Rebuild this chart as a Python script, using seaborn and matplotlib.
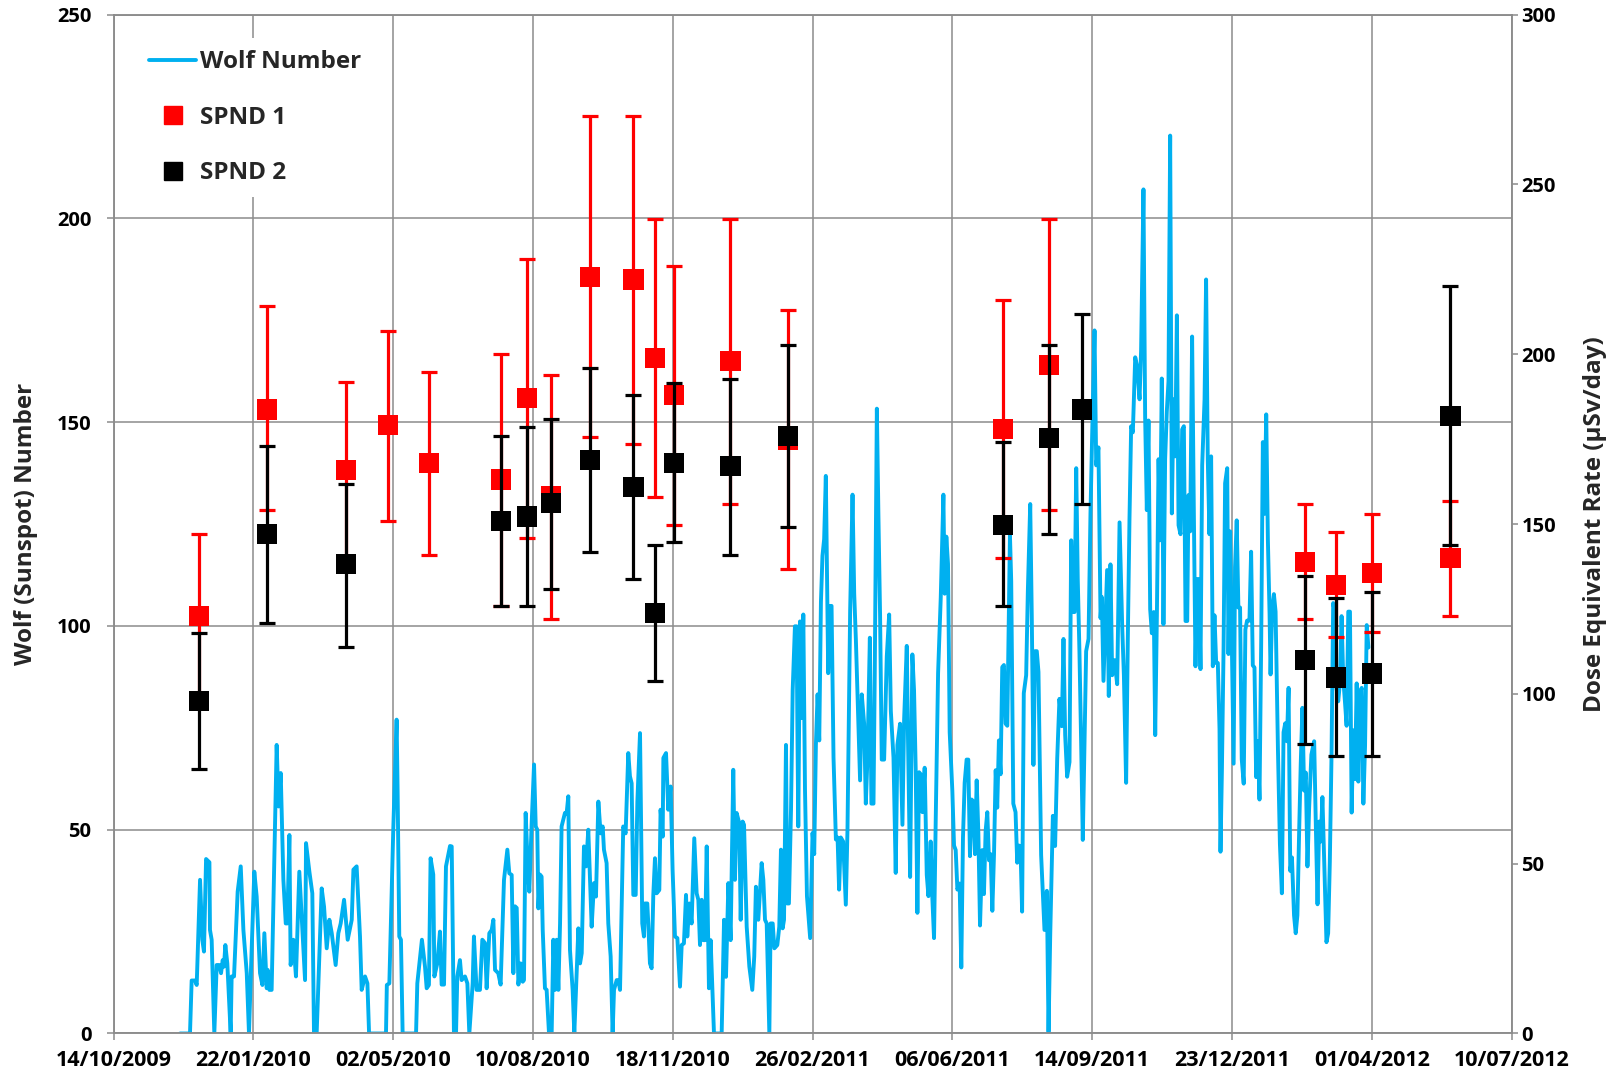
import numpy as np
import pandas as pd
import matplotlib
matplotlib.use("Agg")
import matplotlib.pyplot as plt
from matplotlib.lines import Line2D
import seaborn as sns

# ---------------- data ----------------
START = "2009-10-14"   # day 0 of the day offsets below

# Daily Wolf (sunspot) number (day offset from START, value)
wolf_day = [
    47.6, 54.7, 55.9, 58.3, 59.5, 61.9, 63.5, 64.7, 66.2, 68.6, 69.0, 70.2, 72.1, 73.8, 75.7, 76.9,
    78.1, 79.0, 80.0, 81.4, 83.8, 84.5, 86.2, 88.8, 91.0, 92.9, 95.3, 96.9, 98.4, 100.7, 102.4, 104.8,
    106.5, 107.9, 109.6, 110.3, 111.5, 113.1, 115.5, 116.7, 118.1, 119.6, 121.5, 123.2, 124.3, 125.8,
    126.7, 128.6, 130.5, 132.9, 135.1, 137.0, 137.7, 140.1, 142.2, 143.4, 145.3, 148.9, 150.6, 152.5,
    154.4, 156.1, 158.9, 160.8, 162.5, 164.9, 167.5, 170.4, 171.6, 173.9, 176.3, 177.5, 179.9, 181.6,
    182.8, 194.9,
    195.5, 197.3, 200.1, 202.5, 203.2, 204.4, 205.6, 206.8, 216.4, 217.3, 220.6, 222.8, 224.0, 225.6,
    226.8, 228.7, 229.5, 231.6, 233.5, 234.7, 236.4, 237.8, 240.7, 241.9, 243.5, 245.0, 245.9, 247.8,
    249.0, 251.4, 253.1, 254.5, 256.9, 257.8, 259.7, 262.1, 263.8, 265.7, 266.9, 268.8, 270.5, 271.7,
    272.9, 275.2, 276.9, 279.3, 281.7, 283.1, 284.8, 286.0, 287.2, 288.4, 289.6, 291.2, 292.7, 293.6,
    294.8, 296.0, 297.4, 299.1, 300.8, 302.0, 303.1, 303.9, 305.0, 306.2, 307.0, 308.6, 309.8, 311.5,
    313.4, 314.6, 315.8, 317.0, 318.2, 319.4, 320.5, 322.9, 324.1, 325.3, 326.5, 328.4, 329.6, 330.8,
    332.5, 333.7, 334.9, 336.5, 338.0, 339.6, 340.8,
    342.0, 343.7, 345.1, 346.8, 348.4, 349.9, 350.8, 352.7, 353.9, 355.6, 357.0, 358.0, 359.9, 361.1,
    362.3, 364.6, 366.3, 368.2, 369.4, 370.6, 371.8, 373.5, 374.7, 376.6, 378.2, 379.4, 380.1, 381.8,
    382.5, 383.7, 384.9, 386.1, 387.3, 388.5, 390.4, 391.3, 392.8, 393.3, 395.2, 396.8, 398.5, 399.9,
    401.6, 403.3, 405.2, 406.4, 408.0, 409.5, 410.4, 411.9, 413.5, 415.4, 417.1, 418.3, 419.5, 420.7,
    421.9, 423.1, 424.3, 425.9, 427.1, 429.5, 435.0, 436.7, 438.1, 439.8, 441.4, 443.3, 444.5, 445.7,
    447.6, 448.6, 450.0, 451.0, 452.9, 454.8, 456.9, 458.3, 459.5, 461.2, 463.6, 464.8, 466.0, 467.2,
    469.1, 470.0, 471.5, 472.7, 474.8, 476.2, 477.4, 478.6, 479.6, 481.0, 481.9, 483.1, 484.6, 485.8,
    487.4, 488.6, 489.1, 489.8, 491.0, 492.2, 493.4, 494.6,
    496.0, 498.3, 500.0, 501.2, 502.4, 503.6, 504.8, 506.0, 507.1, 508.3, 509.5, 511.2, 512.6, 513.6,
    515.0, 516.7, 517.9, 519.0, 520.2, 521.9, 523.8, 525.0, 526.9, 528.6, 529.8, 531.0, 532.6, 534.0,
    535.2, 536.9, 538.1, 539.3, 541.0, 542.1, 543.6, 544.5, 546.0, 547.1, 548.3, 549.5, 551.2, 553.1,
    554.8, 556.0, 557.9, 559.5, 560.7, 562.6, 564.3, 565.5, 567.4, 568.3, 569.8, 571.4, 572.6, 573.8,
    575.0, 576.2, 577.4, 578.6, 580.2, 581.7, 582.9, 584.5, 585.7, 586.9, 588.1, 589.8, 591.7, 593.6,
    594.5, 595.7, 596.9, 598.1, 600.0, 601.2, 602.4, 603.6, 605.2, 606.4, 607.6, 608.8, 610.2, 611.4,
    612.6, 613.8, 615.0, 616.2, 617.4, 618.6, 619.8, 621.4, 622.6, 623.8, 625.0, 626.2, 627.4, 628.6,
    629.8, 631.0, 632.1, 633.3, 634.5, 635.7, 636.9, 638.1, 639.3, 641.2, 642.1, 643.6, 645.2, 646.4,
    647.6,
    648.7, 649.9, 651.1, 652.8, 654.0, 655.7, 656.8, 658.0, 659.2, 660.4, 661.6, 663.5, 665.9, 667.6,
    668.8, 670.0, 671.9, 673.5, 675.0, 676.6, 678.3, 679.5, 680.7, 682.1, 683.8, 685.0, 686.2, 687.4,
    688.6, 689.7, 690.9, 692.1, 693.3, 694.5, 695.7, 697.4, 698.8, 700.0, 701.7, 702.9, 704.5, 706.0,
    706.9, 708.1, 709.5, 710.7, 711.9, 713.1, 714.3, 716.0, 717.9, 719.6, 721.5, 722.7, 724.3, 725.5,
    726.7, 727.9, 729.1, 730.8, 732.2, 733.9, 735.0, 736.7, 737.9, 739.1, 740.3, 741.5, 742.7, 744.1,
    745.1, 746.3, 747.5, 748.6, 749.8, 751.0, 752.2, 753.4, 754.6, 755.8, 757.0, 758.2, 759.4, 760.6,
    761.8, 763.2, 764.4, 765.6, 766.8, 768.0, 768.9, 770.1, 771.5, 772.7, 773.9, 775.1, 776.3, 777.5,
    778.7, 780.4, 781.5, 782.7, 783.9, 785.1, 786.3, 787.5, 788.7, 789.9, 791.1, 791.8, 792.8, 794.0,
    795.1, 796.6, 797.5, 798.7,
    801.2, 802.2, 803.4, 804.6, 805.8, 807.0, 808.4, 809.6, 810.8, 812.5, 813.7, 814.9, 816.1, 817.3,
    818.5, 819.7, 820.9, 822.1, 823.3, 824.5, 825.7, 826.9, 827.6, 828.8, 830.0, 831.2, 832.9, 834.3,
    835.7, 836.9, 838.1, 839.3, 840.5, 841.7, 842.9, 844.4, 845.6, 846.8, 848.0, 849.2, 850.4, 851.6,
    852.8, 854.0, 855.2, 856.8, 858.8, 860.0, 861.2, 862.4, 863.5, 864.7, 865.9, 867.6, 868.8, 870.0,
    871.2, 872.4, 873.6, 874.8, 876.0, 877.2, 878.4, 879.6, 880.8, 882.0, 883.2, 884.4, 885.6, 886.8,
    888.0, 889.2, 890.4, 891.6, 892.8, 894.0, 895.2, 896.4, 897.6,
]
wolf_value = [
    0, 0, 13, 13, 11.9, 37.7, 23, 20.1, 42.8, 42, 25.4, 23, 0, 16.8, 16.8, 14.8,
    18, 16.4, 21.7, 17.2, 0, 14, 14, 34.8, 41, 25.4, 14.8, 0, 16.4, 39.7, 33.6, 14.8,
    11.9, 24.6, 11.1, 15.6, 10.7, 10.7, 50, 70.8, 55.7, 63.9, 37.7, 27, 27, 48.7,
    16.8, 23, 14, 39.7, 25.4, 13.1, 46.7, 39.7, 34.4, 0, 0, 35.6, 31.1, 20.9,
    27.9, 24.6, 16.8, 24.6, 27, 32.8, 23, 27.9, 40.2, 41, 23.8, 10.7, 14, 12.3,
    0, 0,
    11.9, 12.3, 50, 77, 59.8, 23.8, 23, 0, 0, 12.3, 23, 16.4, 11.1, 11.9,
    43, 39, 14, 17.2, 25, 12, 12, 41, 46, 45.9, 0, 0, 14, 18,
    13.1, 14, 12.3, 0, 12.3, 23.8, 10.7, 10.7, 23, 22.2, 11.1, 24.6, 25.4, 27.9,
    15.6, 14.8, 12, 37.7, 45.1, 39.3, 38.9, 14.8, 31.2, 30.8, 12, 17.2, 12.7, 13.1,
    54.1, 43.4, 34.8, 51.6, 66, 50.8, 50, 30.7, 39, 38.5, 25.4, 11.1, 10.7, 0,
    0, 23, 10.7, 23, 10.7, 27, 50.8, 54.1, 54, 58.2, 20.5, 10.7, 0, 10.7,
    25.8, 17.2, 19.7, 45.9, 41, 50, 37.7,
    26.2, 36.9, 33.6, 56.9, 49.1, 50.8, 45.1, 41.8, 27, 18.9, 0, 10.7, 13.1, 13.1,
    10.7, 50.8, 49.1, 68.8, 63.1, 61.4, 34, 34, 56.9, 73.7, 27, 23.8, 31.9, 31.9,
    27, 17.2, 16, 34, 43, 34.4, 35.2, 54.9, 48.3, 67.6, 68.8, 54.9, 60.6, 40.1,
    23.8, 23.4, 11.5, 21.7, 22.1, 34, 23.8, 31.9, 27, 47.9, 34.4, 32.8, 21.7, 32.8,
    22.9, 22.9, 45.9, 11.1, 22.9, 0, 0, 27.9, 13.9, 36.9, 22.9, 64.7, 37.7, 54.1,
    51.6, 27.9, 52, 51.2, 26.2, 16.4, 10.7, 18.9, 36, 27.9, 41.8, 37.7, 27.9, 27,
    0, 27, 27, 20.9, 21.7, 26.2, 45.1, 25.8, 27.9, 70.8, 31.9, 31.9, 54.9, 84.3,
    99.9, 99.9, 77.8, 50.8, 101.1, 77.4, 102.8, 59.8,
    33.7, 23.4, 49.2, 44, 70.8, 83.2, 71.9, 105.9, 117.2, 121.3, 136.8, 88.4, 104.9, 104.9,
    67.7, 47.6, 48.1, 35.3, 48.1, 47.1, 31.6, 50.2, 103.8, 132.2, 107.9, 96.6, 78, 62.1,
    83.2, 76, 56.4, 67.7, 97.1, 56.4, 56.4, 88.4, 153.3, 127.5, 102.8, 67.2, 67.2, 92.5,
    102.8, 79.1, 67.7, 39.4, 70.8, 76, 51.2, 77, 95.1, 71.9, 38.4, 93, 84.2, 64.6,
    29.6, 64.1, 63.6, 54.3, 65.2, 38.9, 33.7, 47.1, 33.2, 23.4, 52.3, 88.4, 106.9, 132.2,
    107.9, 121.9, 115.2, 73.9, 59.5, 46.1, 45, 35.3, 36.8, 16.2, 48.1, 61.5, 67.2, 67.2,
    43.5, 57.4, 56.9, 44, 62.1, 49.2, 26.5, 45, 34.2, 49.7, 54.3, 42.5, 44, 30.1,
    44, 64.6, 55.4, 71.9, 63.6, 89.9, 90.4, 76, 75.5, 122.4, 111, 56.4, 54.3, 41.9,
    46.1,
    46, 29.9, 83.5, 87.9, 108.5, 129.9, 102.6, 65.9, 93.8, 93.8, 88.7, 43.8, 25.4, 35,
    0.4, 24, 53.4, 46, 67.4, 82.1, 75.4, 96.8, 73.2, 63, 66.6, 121, 103.4, 103.4,
    138.7, 111.5, 93.8, 71.8, 47.5, 70.3, 93.8, 96.8, 127.6, 146.8, 172.5, 139.4, 143.8, 101.9,
    107.1, 86.5, 101.2, 113.7, 82.8, 115.1, 87.9, 91.6, 85.7, 125.4, 99.7, 87.9, 61.5, 96.8,
    126.2, 149, 147.5, 165.9, 163.7, 155.6, 167.4, 207.1, 151.2, 128.4, 150.4, 104.1, 98.2, 103.4,
    73.2, 102.6, 140.9, 121, 160.7, 100.4, 140.9, 152.6, 160, 220.3, 127.6, 155.6, 141.6, 176.2,
    124.7, 122.5, 148.2, 149, 101.2, 101.2, 132.1, 123.2, 171, 129.1, 90.1, 111.5, 111.5, 89.4,
    139.4, 155.6, 185, 140.9, 122.5, 141.6, 90.1, 102.6, 90.9, 90.9, 74.7, 44.6, 64.4, 94.6,
    135, 138.7, 93.1, 123.2,
    66.2, 114.4, 125.9, 104.5, 104.5, 67.3, 61.3, 99.1, 101.3, 101.3, 118.2, 90.3, 89.8, 62.9,
    71.7, 57.4, 95.8, 145.1, 127.5, 151.9, 121, 102.9, 88.1, 104.5, 107.8, 103.5, 69.5, 46.5,
    34.4, 73.9, 76.1, 71.7, 84.8, 39.9, 43.2, 29, 24.6, 29, 48.7, 66.2, 79.9, 59.6,
    64, 41, 55.3, 68.4, 71.7, 50.9, 31.7, 52, 47.1, 58, 43.2, 22.4, 24.6, 42.1,
    67.9, 105.6, 103.5, 84.8, 81.5, 85.9, 102.4, 87, 81.5, 75.5, 103.5, 103.5, 54.2, 74.4,
    62.4, 85.9, 61.8, 83.7, 84.8, 56.4, 70.6, 100.2, 94.7,
]

# SPND 1 dose equivalent rate (uSv/day): day offset, value, lower and upper error limits
spnd1_day = [61.2, 110.0, 166.0, 196.3, 225.8, 277.4, 295.9, 312.9, 340.9, 371.9, 387.4, 400.7,
             441.3, 482.6, 636.1, 669.3, 852.3, 874.4, 900.2, 956.3]
spnd1_dose = [123.0, 183.7, 165.8, 179.2, 167.9, 163.1, 187.1, 158.2, 222.8, 222.0, 198.8, 187.9,
              198.0, 174.8, 178.0, 196.8, 138.7, 132.1, 135.7, 139.9]
spnd1_low = [99.0, 154.0, 139.8, 151.0, 140.9, 126.0, 146.0, 122.0, 175.7, 173.6, 157.9, 149.6,
             156.0, 136.9, 139.9, 154.0, 122.0, 116.6, 118.1, 123.0]
spnd1_high = [147.0, 214.1, 191.9, 206.8, 194.9, 200.2, 228.0, 194.0, 270.0, 270.0, 239.9, 226.0,
              239.9, 213.1, 215.9, 239.9, 155.8, 147.6, 153.0, 156.7]

# SPND 2
spnd2_day = [61.2, 110.0, 166.0, 277.4, 295.9, 312.9, 340.9, 371.9, 387.4, 400.7, 441.3, 482.6,
             636.1, 669.3, 692.9, 852.3, 874.4, 900.2, 956.3]
spnd2_dose = [97.8, 147.0, 138.1, 151.0, 152.2, 156.1, 168.8, 160.9, 123.8, 167.9, 167.0, 175.8,
              149.6, 175.2, 183.7, 109.9, 104.8, 106.0, 181.9]
spnd2_low = [77.9, 120.8, 113.9, 126.0, 126.0, 130.9, 141.8, 133.9, 103.8, 144.8, 140.9, 149.0,
             126.0, 147.0, 155.8, 85.1, 81.7, 81.7, 143.9]
spnd2_high = [118.0, 173.0, 161.9, 175.8, 178.6, 181.0, 195.8, 187.9, 143.9, 191.6, 192.8, 202.8,
              174.0, 202.8, 211.9, 134.8, 128.2, 130.0, 220.2]

x_tick_labels = ["14/10/2009", "22/01/2010", "02/05/2010", "10/08/2010", "18/11/2010", "26/02/2011",
                 "06/06/2011", "14/09/2011", "23/12/2011", "01/04/2012", "10/07/2012"]
left_ticks = [0, 50, 100, 150, 200, 250]
right_ticks = [0, 50, 100, 150, 200, 250, 300]

# ---------------- style ----------------
sns.set_theme(style="white")
FONT = ["Open Sans", "DejaVu Sans"]
plt.rcParams["font.family"] = FONT
plt.rcParams["font.weight"] = "bold"
plt.rcParams["axes.labelweight"] = "bold"

GRID = "#8c8c8c"
CYAN = "#00B0F0"

start = pd.Timestamp(START)
def to_date(days):
    return start + pd.to_timedelta(np.asarray(days, dtype=float), unit="D")

tick_dates = pd.to_datetime(x_tick_labels, format="%d/%m/%Y")

fig = plt.figure(figsize=(16.17, 10.77), dpi=100)
ax = fig.add_axes([0.0702, 0.0404, 0.8646, 0.9461])

wolf_df = pd.DataFrame({"date": to_date(wolf_day), "wolf": wolf_value})
sns.lineplot(data=wolf_df, x="date", y="wolf", ax=ax, color=CYAN, linewidth=2.8,
             estimator=None, sort=False, legend=False)

ax.set_xlim(tick_dates[0], tick_dates[-1])
ax.set_ylim(left_ticks[0], left_ticks[-1])
ax.set_xticks(tick_dates)
ax.set_xticklabels(x_tick_labels)
ax.set_yticks(left_ticks)
ax.grid(True, color=GRID, linewidth=1.1)
ax.set_axisbelow(True)
ax.set_xlabel("")
ax.set_ylabel("Wolf (Sunspot) Number", fontsize=17.5, fontweight="bold")
ax.yaxis.set_label_coords(-0.054, 0.5)
for t in ax.get_xticklabels() + ax.get_yticklabels():
    t.set_fontweight("bold")
ax.tick_params(axis="x", labelsize=15.5, colors="black")
ax.tick_params(axis="y", labelsize=14.5, colors="black")
ax.tick_params(axis="y", left=True, length=5, width=1.1, color=GRID, pad=11)
ax.tick_params(axis="x", bottom=True, length=5, width=1.1, color=GRID, pad=7)

ax2 = ax.twinx()
ax2.set_ylim(right_ticks[0], right_ticks[-1])
ax2.set_yticks(right_ticks)
ax2.grid(False)

def draw_spnd(days, dose, low, high, color, z):
    d = to_date(days)
    dose = np.asarray(dose); low = np.asarray(low); high = np.asarray(high)
    ax2.errorbar(d, dose, yerr=[dose - low, high - dose], fmt="none", ecolor=color,
                 elinewidth=2.3, capsize=5.5, capthick=2.3, zorder=z)
    sns.scatterplot(x=d, y=dose, ax=ax2, marker="s", s=210, color=color,
                    edgecolor="none", linewidth=0, zorder=z + 1, legend=False)

draw_spnd(spnd1_day, spnd1_dose, spnd1_low, spnd1_high, "#FF0000", 3)
draw_spnd(spnd2_day, spnd2_dose, spnd2_low, spnd2_high, "#000000", 5)

ax2.set_ylabel("Dose Equivalent Rate (\u00b5Sv/day)", fontsize=17.5, fontweight="bold", rotation=90)
ax2.yaxis.set_label_coords(1.051, 0.5)
for t in ax2.get_yticklabels():
    t.set_fontweight("bold")
ax2.tick_params(axis="y", right=True, length=4, width=1.1, color=GRID, pad=3, labelsize=14.5,
                colors="black")

for a in (ax, ax2):
    for s in a.spines.values():
        s.set_visible(True)
        s.set_color(GRID)
        s.set_linewidth(1.1)

handles = [
    Line2D([], [], color=CYAN, linewidth=2.8),
    Line2D([], [], color="#FF0000", marker="s", linestyle="none", markersize=13),
    Line2D([], [], color="#000000", marker="s", linestyle="none", markersize=13),
]
leg = ax2.legend(handles, ["Wolf Number", "SPND 1", "SPND 2"], loc="upper left",
                 bbox_to_anchor=(0.008, 0.989), frameon=True, fancybox=False,
                 facecolor="white", edgecolor="none", framealpha=1.0,
                 prop={"family": FONT, "size": 17.5, "weight": "bold"}, handlelength=1.95,
                 handletextpad=0.15, labelspacing=1.3, borderpad=0.5)
leg.set_zorder(20)

fig.savefig("out.png", dpi=100)
